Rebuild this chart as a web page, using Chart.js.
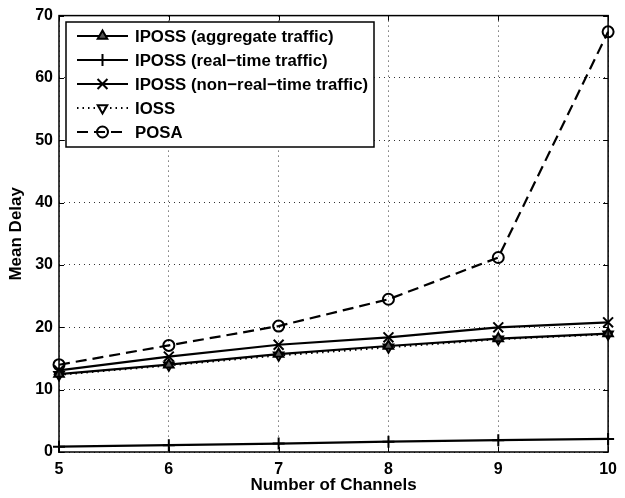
<!DOCTYPE html>
<html>
<head>
<meta charset="utf-8">
<script src="https://cdn.jsdelivr.net/npm/chart.js@4"></script>
<style>
  html, body { margin: 0; padding: 0; background: #fff; }
  #wrap { width: 625px; height: 498px; }
</style>
</head>
<body>
<div id="wrap"><canvas id="delayChart" width="625" height="498"></canvas></div>
<script>
// number of channels on the x axis
const channels = [5, 6, 7, 8, 9, 10];

// mean delay per scheme
const iposAggregate = [12.5, 14.0, 15.7, 17.0, 18.2, 19.0];
const iposRealTime = [0.85, 1.1, 1.35, 1.65, 1.9, 2.1];
const iposNonRealTime = [13.1, 15.3, 17.2, 18.4, 20.0, 20.8];
const ioss = [12.4, 13.9, 15.5, 16.8, 18.1, 18.9];
const posa = [14.0, 17.1, 20.2, 24.5, 31.2, 67.4];

const yTicks = [0, 10, 20, 30, 40, 50, 60, 70];

const FONT = "'Liberation Sans', Arial, sans-serif";

function pts(values) {
    return channels.map((c, i) => ({ x: c, y: values[i] }));
}

function series(label, values, style, extra) {
    return Object.assign({
        label: label,
        data: pts(values),
        borderColor: "#000",
        backgroundColor: "transparent",
        borderWidth: 2.2,
        pointStyle: style,
        pointRadius: 5.5,
        pointBorderWidth: 2,
        pointBorderColor: "#000",
        pointBackgroundColor: "transparent",
        tension: 0,
        clip: false
    }, extra || {});
}

// box round the plot, inward ticks on all four sides
const frame = {
    id: "frame",
    afterDatasetsDraw(chart) {
        const ctx = chart.ctx;
        const a = chart.chartArea;
        const xs = chart.scales.x, ys = chart.scales.y;
        ctx.save();
        ctx.strokeStyle = "#000";
        ctx.lineWidth = 1.5;
        ctx.strokeRect(a.left, a.top, a.right - a.left, a.bottom - a.top);
        ctx.lineWidth = 1;
        ctx.beginPath();
        xs.ticks.forEach(t => {
            const px = Math.round(xs.getPixelForValue(t.value)) + 0.5;
            ctx.moveTo(px, a.bottom); ctx.lineTo(px, a.bottom - 5);
            ctx.moveTo(px, a.top); ctx.lineTo(px, a.top + 5);
        });
        ys.ticks.forEach(t => {
            const py = Math.round(ys.getPixelForValue(t.value)) + 0.5;
            ctx.moveTo(a.left, py); ctx.lineTo(a.left + 5, py);
            ctx.moveTo(a.right, py); ctx.lineTo(a.right - 5, py);
        });
        ctx.stroke();
        ctx.restore();
    }
};

// matlab style legend box in the upper left corner
const boxLegend = {
    id: "boxLegend",
    afterDraw(chart) {
        const ctx = chart.ctx;
        const left = 66, top = 22, w = 308, h = 125;
        ctx.save();
        ctx.fillStyle = "#fff";
        ctx.fillRect(left, top, w, h);
        ctx.strokeStyle = "#000";
        ctx.lineWidth = 1.5;
        ctx.strokeRect(left, top, w, h);

        chart.data.datasets.forEach((ds, i) => {
            const y = 36 + i * 24;
            ctx.save();
            ctx.strokeStyle = ds.borderColor;
            ctx.lineWidth = ds.borderWidth;
            ctx.setLineDash(ds.borderDash || []);
            ctx.beginPath();
            ctx.moveTo(77, y);
            ctx.lineTo(128, y);
            ctx.stroke();
            ctx.restore();

            ctx.save();
            ctx.strokeStyle = "#000";
            ctx.fillStyle = ds.pointBackgroundColor;
            ctx.lineWidth = ds.pointBorderWidth;
            Chart.helpers.drawPoint(ctx, {
                pointStyle: ds.pointStyle,
                rotation: ds.pointRotation || 0,
                radius: ds.pointRadius,
                borderWidth: ds.pointBorderWidth
            }, 102.5, y);
            ctx.restore();

            ctx.fillStyle = "#000";
            ctx.font = "bold 16.8px " + FONT;
            ctx.textBaseline = "middle";
            ctx.textAlign = "left";
            ctx.fillText(ds.label, 135, y + 1);
        });
        ctx.restore();
    }
};

const whiteBg = {
    id: "whiteBg",
    beforeDraw(chart) {
        const ctx = chart.ctx;
        ctx.save();
        ctx.fillStyle = "#fff";
        ctx.fillRect(0, 0, chart.width, chart.height);
        ctx.restore();
    }
};

new Chart(document.getElementById("delayChart"), {
    type: "line",
    data: {
        datasets: [
            series("IPOSS (aggregate traffic)", iposAggregate, "triangle", { pointBackgroundColor: "#555" }),
            series("IPOSS (real\u2212time traffic)", iposRealTime, "cross", { pointRadius: 6 }),
            series("IPOSS (non\u2212real\u2212time traffic)", iposNonRealTime, "crossRot", { pointRadius: 7 }),
            series("IOSS", ioss, "triangle", { pointRotation: 180, borderDash: [1.5, 4] }),
            series("POSA", posa, "circle", { borderDash: [11, 6] })
        ]
    },
    options: {
        responsive: false,
        animation: false,
        devicePixelRatio: 1,
        layout: { padding: { top: 14, right: 10, left: 0, bottom: 0 } },
        plugins: {
            legend: { display: false },
            tooltip: { enabled: false }
        },
        scales: {
            x: {
                type: "linear",
                min: 5,
                max: 10,
                afterFit(scale) { scale.height = 46; },
                afterBuildTicks(scale) { scale.ticks = channels.map(v => ({ value: v })); },
                ticks: {
                    color: "#000",
                    padding: 8,
                    maxRotation: 0,
                    font: { family: FONT, size: 16, weight: "bold" }
                },
                grid: { color: "#333", lineWidth: 1, drawTicks: false },
                border: { display: false, dash: [1, 4] },
                title: {
                    display: true,
                    text: "Number of Channels",
                    color: "#000",
                    padding: { top: 0, bottom: 2 },
                    font: { family: FONT, size: 17, weight: "bold" }
                }
            },
            y: {
                min: 0,
                max: 70,
                afterFit(scale) { scale.width = 59; },
                afterBuildTicks(scale) { scale.ticks = yTicks.map(v => ({ value: v })); },
                ticks: {
                    color: "#000",
                    padding: 6,
                    font: { family: FONT, size: 16, weight: "bold" }
                },
                grid: { color: "#333", lineWidth: 1, drawTicks: false },
                border: { display: false, dash: [1, 4] },
                title: {
                    display: true,
                    text: "Mean Delay",
                    color: "#000",
                    padding: { top: 6, bottom: 0 },
                    font: { family: FONT, size: 17, weight: "bold" }
                }
            }
        }
    },
    plugins: [whiteBg, frame, boxLegend]
});
</script>
</body>
</html>
